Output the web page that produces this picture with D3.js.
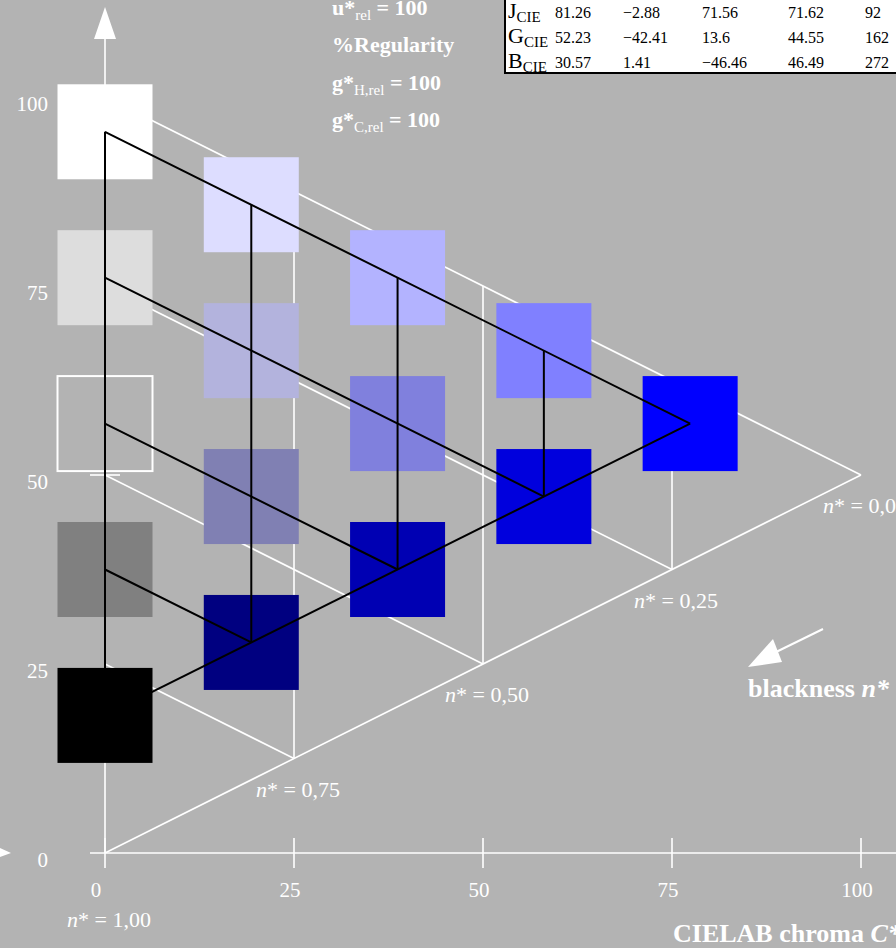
<!DOCTYPE html>
<html>
<head>
<meta charset="utf-8">
<script src="https://cdn.jsdelivr.net/npm/d3@7"></script>
<style>
  html, body { margin: 0; padding: 0; background: #b3b3b3; }
  svg { display: block; font-family: "Liberation Serif", "DejaVu Serif", serif; }
</style>
</head>
<body>
<svg id="chart" width="896" height="948"></svg>
<script>
// ---- data ----------------------------------------------------------
const chromaTicks = [0, 25, 50, 75, 100];
const lightnessTicks = [0, 25, 50, 75, 100];
const gridSteps = [0, 0.25, 0.5, 0.75, 1];
const blacknessLabels = ["0,00", "0,25", "0,50", "0,75", "1,00"];

// ideal triangle corners (C*, L*)
const idealWhite = [0, 100];
const idealBlack = [0, 0];
const idealColor = [100, 50];

// measured device triangle corners (C*, L*)
const deviceWhite = [0, 95.4];
const deviceBlack = [0, 18.2];
const deviceColor = [77.4, 56.8];

// patch fills, one column per chroma step (c = 0 .. 1), rows by blackness n* = 0 .. 1-c
const patchColumns = [
  ["#ffffff", "#dddddd", "#b3b3b3", "#808080", "#000000"],
  ["#ddddff", "#b3b3dd", "#8080b3", "#000080"],
  ["#b3b3ff", "#8080dd", "#0000b3"],
  ["#8080ff", "#0000dd"],
  ["#0000ff"]
];

// colour data table
const tableLabels = ["J", "G", "B"];
const tableRows = [
  ["81.26", "\u22122.88", "71.56", "71.62", "92"],
  ["52.23", "\u221242.41", "13.6", "44.55", "162"],
  ["30.57", "1.41", "\u221246.46", "46.49", "272"]
];

// ---- layout ---------------------------------------------------------
const bg = "#b3b3b3";
const svg = d3.select("#chart");
svg.append("rect").attr("width", 896).attr("height", 948).attr("fill", bg);

const x = d3.scaleLinear().domain([0, 100]).range([105, 861]);
const y = d3.scaleLinear().domain([0, 100]).range([853, 97]);

// barycentric point: w*white + c*color + n*black
function mix(W, K, C, w, c, n) {
  return [w * W[0] + c * C[0] + n * K[0], w * W[1] + c * C[1] + n * K[1]];
}
const ideal = (w, c, n) => mix(idealWhite, idealBlack, idealColor, w, c, n);
const device = (w, c, n) => mix(deviceWhite, deviceBlack, deviceColor, w, c, n);

const line = d3.line().x(d => x(d[0])).y(d => y(d[1]));

// ---- white reference grid -------------------------------------------
const gridG = svg.append("g").attr("stroke", "#fff").attr("stroke-width", 1.6).attr("fill", "none");
// black-to-colour edge
gridG.append("path").attr("d", line([ideal(0, 0, 1), ideal(0, 1, 0)]));
gridSteps.forEach(s => {
  // constant blackness
  if (s < 1) gridG.append("path").attr("d", line([ideal(1 - s, 0, s), ideal(0, 1 - s, s)]));
  // constant chroma
  if (s > 0 && s < 1) gridG.append("path").attr("d", line([ideal(1 - s, s, 0), ideal(0, s, 1 - s)]));
});

// ---- axes -----------------------------------------------------------
const axG = svg.append("g").attr("stroke", "#fff").attr("stroke-width", 1.6);
axG.append("line").attr("x1", x(0) - 15).attr("x2", 896).attr("y1", y(0)).attr("y2", y(0));
axG.append("line").attr("x1", x(0)).attr("x2", x(0)).attr("y1", y(0)).attr("y2", 38);
chromaTicks.forEach(t => {
  axG.append("line").attr("x1", x(t)).attr("x2", x(t)).attr("y1", y(0) - 15).attr("y2", y(0) + 15);
});
axG.append("line").attr("x1", x(0) - 15).attr("x2", x(0) + 15).attr("y1", y(50)).attr("y2", y(50));

// arrow heads
svg.append("path").attr("fill", "#fff")
  .attr("d", `M${x(0)},7 L${x(0) - 11},39 L${x(0) + 11},39 Z`);
svg.append("path").attr("fill", "#fff")
  .attr("d", `M11,${y(0)} L0,${y(0) - 5} L0,${y(0) + 4} Z`);

// tick labels
const tickFont = 21;
svg.append("g").selectAll("text").data(chromaTicks).join("text")
  .attr("x", d => x(d) - (d === 0 ? 9 : 4)).attr("y", 897)
  .attr("text-anchor", "middle").attr("fill", "#fff").attr("font-size", tickFont)
  .text(d => d);
svg.append("g").selectAll("text").data(lightnessTicks).join("text")
  .attr("x", 48).attr("y", d => y(d) + 14)
  .attr("text-anchor", "end").attr("fill", "#fff").attr("font-size", tickFont)
  .text(d => d);

// ---- colour patches --------------------------------------------------
const patchSize = 95;
const patches = [];
patchColumns.forEach((col, i) => {
  col.forEach((fill, j) => {
    const c = gridSteps[i], n = gridSteps[j];
    patches.push({ p: device(1 - c - n, c, n), fill });
  });
});
svg.append("g").selectAll("rect").data(patches).join("rect")
  .attr("x", d => x(d.p[0]) - patchSize / 2)
  .attr("y", d => y(d.p[1]) - patchSize / 2)
  .attr("width", patchSize).attr("height", patchSize)
  .attr("fill", d => d.fill)
  .attr("stroke", d => d.fill === bg ? "#fff" : "none")
  .attr("stroke-width", 2);

// ---- measured (device) grid -----------------------------------------
const devG = svg.append("g").attr("stroke", "#000").attr("stroke-width", 2).attr("fill", "none");
devG.append("path").attr("d", line([device(1, 0, 0), device(0, 0, 1)]));
devG.append("path").attr("d", line([device(0, 0, 1), device(0, 1, 0)]));
gridSteps.forEach(s => {
  if (s < 1) devG.append("path").attr("d", line([device(1 - s, 0, s), device(0, 1 - s, s)]));
  if (s > 0 && s < 1) devG.append("path").attr("d", line([device(1 - s, s, 0), device(0, s, 1 - s)]));
});

// ---- blackness labels ------------------------------------------------
const nLab = svg.append("g").attr("fill", "#fff").attr("font-size", 22);
gridSteps.forEach((s, k) => {
  const p = ideal(0, 1 - s, s);
  const t = nLab.append("text")
    .attr("x", x(p[0]) - 38)
    .attr("y", y(p[1]) + (s === 1 ? 74 : 38));
  t.append("tspan").attr("font-style", "italic").text("n");
  t.append("tspan").text("* = " + blacknessLabels[k]);
});

// blackness arrow
svg.append("line").attr("x1", 823).attr("y1", 629).attr("x2", 772).attr("y2", 654)
  .attr("stroke", "#fff").attr("stroke-width", 2);
svg.append("path").attr("fill", "#fff").attr("d", "M748,667 L773,639 L782,662 Z");
const bn = svg.append("text").attr("x", 748).attr("y", 697).attr("fill", "#fff")
  .attr("font-size", 26).attr("font-weight", "bold");
bn.append("tspan").text("blackness ");
bn.append("tspan").attr("font-style", "italic").text("n*");

// axis title
const at = svg.append("text").attr("x", 673).attr("y", 942).attr("fill", "#fff")
  .attr("font-size", 26).attr("font-weight", "bold");
at.append("tspan").text("CIELAB chroma ");
at.append("tspan").attr("font-style", "italic").text("C*");

// ---- regularity header ------------------------------------------------
const hdr = svg.append("g").attr("fill", "#fff").attr("font-weight", "bold").attr("font-size", 22);
function subText(yy, main, sub, tail) {
  const t = hdr.append("text").attr("x", 332).attr("y", yy);
  t.append("tspan").text(main);
  if (sub) t.append("tspan").attr("font-size", 15).attr("font-weight", "normal").attr("dy", 5).text(sub);
  if (tail) t.append("tspan").attr("dy", sub ? -5 : 0).text(tail);
}
subText(15, "u*", "rel", " = 100");
subText(52, "%Regularity", null, null);
subText(90, "g*", "H,rel", " = 100");
subText(127, "g*", "C,rel", " = 100");

// ---- data table -------------------------------------------------------
const tab = svg.append("g");
tab.append("rect").attr("x", 505).attr("y", -10).attr("width", 410).attr("height", 83)
  .attr("fill", "#fff").attr("stroke", "#000").attr("stroke-width", 2);
const colX = [555, 623, 702, 788, 865];
tableRows.forEach((row, r) => {
  const by = 18 + r * 25;
  const lab = tab.append("text").attr("x", 508).attr("y", by).attr("font-size", 22);
  lab.append("tspan").text(tableLabels[r]);
  lab.append("tspan").attr("font-size", 15).attr("dy", 4).text("CIE");
  row.forEach((v, k) => {
    tab.append("text").attr("x", colX[k]).attr("y", by).attr("font-size", 16).text(v);
  });
});
</script>
</body>
</html>
